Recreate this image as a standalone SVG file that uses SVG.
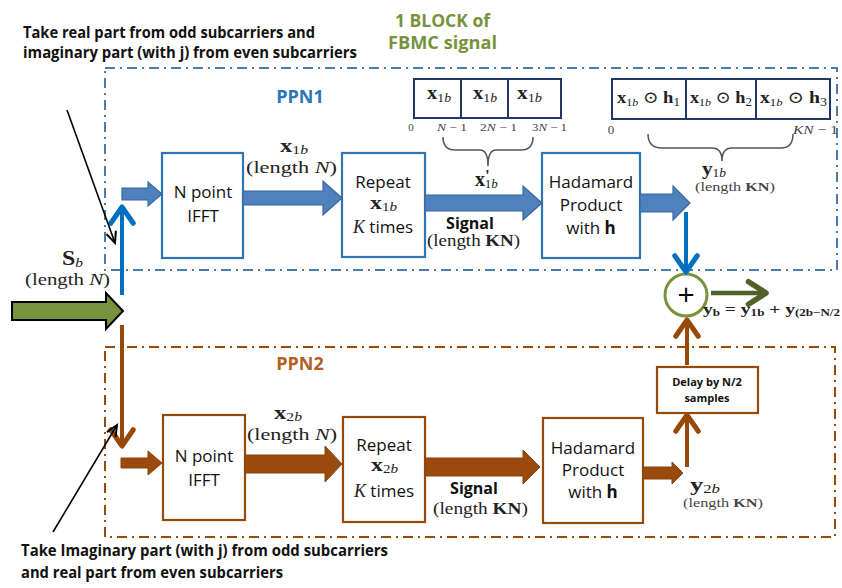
<svg xmlns="http://www.w3.org/2000/svg" width="842" height="588" viewBox="0 0 842 588">
  <defs>
    <style>
      .sans { font-family: "Open Sans", "Liberation Sans", sans-serif; fill: #111; }
      .note { font-family: "Open Sans", "Liberation Sans", sans-serif; font-weight: bold; font-size: 16px; fill: #111; }
      .ser { font-family: "Liberation Serif", "DejaVu Serif", serif; fill: #222; }
      .b { font-weight: bold; }
      .i { font-style: italic; }
      .bluebox { fill: #fff; stroke: #2e75b6; stroke-width: 2.2; }
      .brownbox { fill: #fff; stroke: #984807; stroke-width: 2.2; }
      .arrB { fill: #4f81bd; stroke: #3a679e; stroke-width: 1.2; }
      .arrR { fill: #9a4a0c; stroke: #8a420a; stroke-width: 1; }
      .cells { fill: #fff; stroke: #1f3864; stroke-width: 2; }
      .brace { fill: none; stroke: #555; stroke-width: 1.5; }
    </style>
    <marker id="chevBlue" markerUnits="userSpaceOnUse" markerWidth="30" markerHeight="30" viewBox="-16 -12 20 24" refX="0" refY="0" orient="auto" overflow="visible">
      <path d="M-13,-9 L0,0 L-13,9" fill="none" stroke="#0070c0" stroke-width="4" stroke-linecap="round" stroke-linejoin="round"/>
    </marker>
    <marker id="chevBrown" markerUnits="userSpaceOnUse" markerWidth="30" markerHeight="30" viewBox="-16 -12 20 24" refX="0" refY="0" orient="auto" overflow="visible">
      <path d="M-13,-9 L0,0 L-13,9" fill="none" stroke="#984807" stroke-width="4" stroke-linecap="round" stroke-linejoin="round"/>
    </marker>
    <marker id="chevGreen" markerUnits="userSpaceOnUse" markerWidth="30" markerHeight="30" viewBox="-16 -12 20 24" refX="0" refY="0" orient="auto" overflow="visible">
      <path d="M-14,-9 L0,0 L-14,9" fill="none" stroke="#4f6228" stroke-width="4.5" stroke-linecap="round" stroke-linejoin="round"/>
    </marker>
    <marker id="tipBlack" markerUnits="userSpaceOnUse" markerWidth="20" markerHeight="20" viewBox="-12 -8 14 16" refX="0" refY="0" orient="auto" overflow="visible">
      <path d="M-9,-4 L0,0 L-9,4" fill="none" stroke="#000" stroke-width="1.6"/>
    </marker>
  </defs>

  <rect width="842" height="588" fill="#fff"/>

  <!-- annotations outside the blocks -->
  <g id="note-top">
    <text class="note" x="23" y="38" textLength="292" lengthAdjust="spacingAndGlyphs">Take real part from odd subcarriers and</text>
    <text class="note" x="23" y="58" textLength="334" lengthAdjust="spacingAndGlyphs">imaginary part (with j) from even subcarriers</text>
  </g>
  <g id="title">
    <text class="sans b" x="395" y="27" font-size="18" textLength="95" lengthAdjust="spacingAndGlyphs" style="fill:#77933c">1 BLOCK of</text>
    <text class="sans b" x="388" y="49" font-size="18" textLength="109" lengthAdjust="spacingAndGlyphs" style="fill:#77933c">FBMC signal</text>
  </g>
  <g id="note-bottom">
    <text class="note" x="21" y="556" textLength="367" lengthAdjust="spacingAndGlyphs">Take Imaginary part (with j) from odd  subcarriers</text>
    <text class="note" x="21" y="578" textLength="262" lengthAdjust="spacingAndGlyphs">and real part  from even subcarriers</text>
  </g>

  <!-- polyphase network frames -->
  <g id="ppn1">
    <rect x="105" y="68" width="732" height="202" fill="none" stroke="#4a7bab" stroke-width="2" stroke-dasharray="10 5 2 5"/>
    <text class="sans b" x="300" y="103" text-anchor="middle" font-size="18" style="fill:#2e75b6">PPN1</text>
  </g>
  <g id="ppn2">
    <rect x="105" y="347" width="730" height="190" fill="none" stroke="#984807" stroke-width="2" stroke-dasharray="10 5 2 5"/>
    <text class="sans b" x="300" y="370" text-anchor="middle" font-size="18" style="fill:#b5601e">PPN2</text>
  </g>

  <!-- PPN1 nodes -->
  <g id="ifft1">
    <rect class="bluebox" x="162" y="153" width="81" height="105"/>
    <text class="sans" x="203" y="198" text-anchor="middle" font-size="17">N point</text>
    <text class="sans" x="203" y="222" text-anchor="middle" font-size="17">IFFT</text>
  </g>
  <g id="repeat1">
    <rect class="bluebox" x="342" y="153" width="83" height="104"/>
    <text class="sans" x="383" y="188" text-anchor="middle" font-size="17">Repeat</text>
    <text class="ser" x="370" y="209" font-size="19" textLength="27" lengthAdjust="spacingAndGlyphs"><tspan class="b">x</tspan><tspan font-size="12" dy="2">1<tspan class="i">b</tspan></tspan></text>
    <text class="sans" x="383" y="233" text-anchor="middle" font-size="17"><tspan class="ser i" font-size="18">K</tspan> times</text>
  </g>
  <g id="hadamard1">
    <rect class="bluebox" x="542" y="153" width="98" height="105"/>
    <text class="sans" x="591" y="188" text-anchor="middle" font-size="17">Hadamard</text>
    <text class="sans" x="591" y="211" text-anchor="middle" font-size="17">Product</text>
    <text class="sans" x="591" y="234" text-anchor="middle" font-size="17">with <tspan class="b">h</tspan></text>
  </g>

  <!-- x1b repeated frame -->
  <g id="frame-x1b">
    <rect class="cells" x="414" y="79" width="147" height="39"/>
    <line x1="461" y1="79" x2="461" y2="118" stroke="#1f3864" stroke-width="2"/>
    <line x1="508" y1="79" x2="508" y2="118" stroke="#1f3864" stroke-width="2"/>
    <g class="ser" font-size="18">
      <text x="427" y="99" textLength="24" lengthAdjust="spacingAndGlyphs"><tspan class="b">x</tspan><tspan font-size="12" dy="3">1<tspan class="i">b</tspan></tspan></text>
      <text x="473" y="99" textLength="24" lengthAdjust="spacingAndGlyphs"><tspan class="b">x</tspan><tspan font-size="12" dy="3">1<tspan class="i">b</tspan></tspan></text>
      <text x="517" y="99" textLength="25" lengthAdjust="spacingAndGlyphs"><tspan class="b">x</tspan><tspan font-size="12" dy="3">1<tspan class="i">b</tspan></tspan></text>
    </g>
    <g class="ser" font-size="11" style="fill:#444">
      <text x="411" y="131" text-anchor="middle">0</text>
      <text x="437" y="131" textLength="30" lengthAdjust="spacingAndGlyphs"><tspan class="i">N</tspan> − 1</text>
      <text x="480" y="131" textLength="37" lengthAdjust="spacingAndGlyphs">2<tspan class="i">N</tspan> − 1</text>
      <text x="532" y="131" textLength="35" lengthAdjust="spacingAndGlyphs">3<tspan class="i">N</tspan> − 1</text>
    </g>
    <path class="brace" d="M443,137 Q443,150 455,150 L480,150 Q488,150 488,166 Q488,150 496,150 L521,150 Q533,150 533,137"/>
    <text class="ser" x="475" y="186" font-size="20"><tspan class="b">x</tspan><tspan class="b" font-size="17" dx="0" dy="-5">'</tspan><tspan font-size="13" dx="-5" dy="7">1<tspan class="i">b</tspan></tspan></text>
  </g>

  <!-- y1b frame -->
  <g id="frame-y1b">
    <rect class="cells" x="612" y="79" width="218" height="40"/>
    <line x1="686" y1="79" x2="686" y2="119" stroke="#1f3864" stroke-width="2"/>
    <line x1="756" y1="79" x2="756" y2="119" stroke="#1f3864" stroke-width="2"/>
    <g class="ser" font-size="17">
      <text x="617" y="103" textLength="63" lengthAdjust="spacingAndGlyphs"><tspan class="b">x</tspan><tspan font-size="11" dy="3">1<tspan class="i">b</tspan></tspan><tspan dy="-3"> ⊙ </tspan><tspan class="b">h</tspan><tspan font-size="12" dy="3">1</tspan></text>
      <text x="690" y="103" textLength="62" lengthAdjust="spacingAndGlyphs"><tspan class="b">x</tspan><tspan font-size="11" dy="3">1<tspan class="i">b</tspan></tspan><tspan dy="-3"> ⊙ </tspan><tspan class="b">h</tspan><tspan font-size="12" dy="3">2</tspan></text>
      <text x="760" y="103" textLength="67" lengthAdjust="spacingAndGlyphs"><tspan class="b">x</tspan><tspan font-size="11" dy="3">1<tspan class="i">b</tspan></tspan><tspan dy="-3"> ⊙ </tspan><tspan class="b">h</tspan><tspan font-size="12" dy="3">3</tspan></text>
    </g>
    <text class="ser" x="611" y="134" text-anchor="middle" font-size="13" style="fill:#444">0</text>
    <text class="ser" x="793" y="134" font-size="13" textLength="45" lengthAdjust="spacingAndGlyphs" style="fill:#444"><tspan class="i">KN</tspan> − 1</text>
    <path class="brace" d="M648,134 Q648,148 662,148 L712,148 Q722,148 722,161 Q722,148 732,148 L781,148 Q793,148 793,134"/>
    <text class="ser" x="702" y="175" font-size="19" textLength="24" lengthAdjust="spacingAndGlyphs"><tspan class="b">y</tspan><tspan font-size="12" dy="2">1<tspan class="i">b</tspan></tspan></text>
    <text class="ser" x="695" y="191" font-size="13" textLength="80" lengthAdjust="spacingAndGlyphs" style="fill:#444">(length  <tspan class="b">KN</tspan>)</text>
  </g>

  <!-- PPN2 nodes -->
  <g id="ifft2">
    <rect class="brownbox" x="163" y="415" width="82" height="105"/>
    <text class="sans" x="204" y="462" text-anchor="middle" font-size="17">N point</text>
    <text class="sans" x="204" y="486" text-anchor="middle" font-size="17">IFFT</text>
  </g>
  <g id="repeat2">
    <rect class="brownbox" x="343" y="417" width="82" height="105"/>
    <text class="sans" x="384" y="451" text-anchor="middle" font-size="17">Repeat</text>
    <text class="ser" x="371" y="471" font-size="19" textLength="27" lengthAdjust="spacingAndGlyphs"><tspan class="b">x</tspan><tspan font-size="12" dy="2">2<tspan class="i">b</tspan></tspan></text>
    <text class="sans" x="384" y="497" text-anchor="middle" font-size="17"><tspan class="ser i" font-size="18">K</tspan> times</text>
  </g>
  <g id="hadamard2">
    <rect class="brownbox" x="543" y="418" width="100" height="105"/>
    <text class="sans" x="593" y="454" text-anchor="middle" font-size="17">Hadamard</text>
    <text class="sans" x="593" y="476" text-anchor="middle" font-size="17">Product</text>
    <text class="sans" x="593" y="498" text-anchor="middle" font-size="17">with <tspan class="b">h</tspan></text>
  </g>
  <g id="delay">
    <rect class="brownbox" x="657" y="367" width="101" height="46"/>
    <text class="sans b" x="707" y="386" text-anchor="middle" font-size="11">Delay by N/2</text>
    <text class="sans b" x="707" y="402" text-anchor="middle" font-size="11">samples</text>
  </g>

  <!-- summation node -->
  <g id="sum">
    <circle cx="686" cy="295" r="21" fill="#fff" stroke="#77933c" stroke-width="3"/>
    <text class="sans" x="686" y="305" text-anchor="middle" font-size="30" style="fill:#000">+</text>
  </g>

  <!-- connectors -->
  <g id="connectors">
    <!-- input split -->
    <path d="M12,302 L106,302 L106,293 L123,311 L106,329 L106,320 L12,320 Z" fill="#77933c" stroke="#000" stroke-width="2" stroke-linejoin="miter"/>
    <line x1="122" y1="295" x2="122" y2="207" stroke="#0070c0" stroke-width="4" marker-end="url(#chevBlue)"/>
    <line x1="122" y1="325" x2="122" y2="446" stroke="#984807" stroke-width="4" marker-end="url(#chevBrown)"/>

    <!-- PPN1 flow -->
    <path class="arrB" d="M122,188 L148,188 L148,182 L162,194 L148,206 L148,200 L122,200 Z"/>
    <path class="arrB" d="M243,191 L323,191 L323,181 L342,198 L323,215 L323,205 L243,205 Z"/>
    <path class="arrB" d="M425,195 L523,195 L523,186 L542,203 L523,220 L523,211 L425,211 Z"/>
    <path class="arrB" d="M640,194 L673,194 L673,186 L690,203 L673,220 L673,212 L640,212 Z"/>
    <line x1="686" y1="212" x2="686" y2="272" stroke="#0070c0" stroke-width="4" marker-end="url(#chevBlue)"/>

    <!-- PPN2 flow -->
    <path class="arrR" d="M121,458 L148,458 L148,451 L162,463 L148,475 L148,468 L121,468 Z"/>
    <path class="arrR" d="M245,455 L325,455 L325,446 L342,464 L325,482 L325,473 L245,473 Z"/>
    <path class="arrR" d="M425,458 L523,458 L523,450 L540,467 L523,484 L523,476 L425,476 Z"/>
    <path class="arrR" d="M643,467 L672,467 L672,462 L683,473 L672,484 L672,479 L643,479 Z"/>
    <line x1="687" y1="467" x2="687" y2="415" stroke="#984807" stroke-width="4" marker-end="url(#chevBrown)"/>
    <line x1="687" y1="365" x2="687" y2="320" stroke="#984807" stroke-width="4" marker-end="url(#chevBrown)"/>

    <!-- output -->
    <line x1="711" y1="293" x2="766" y2="293" stroke="#4f6228" stroke-width="4.5" marker-end="url(#chevGreen)"/>

    <!-- pointers from the notes -->
    <line x1="67" y1="110" x2="115" y2="243" stroke="#000" stroke-width="1.6" marker-end="url(#tipBlack)"/>
    <line x1="53" y1="532" x2="117" y2="425" stroke="#000" stroke-width="1.6" marker-end="url(#tipBlack)"/>
  </g>

  <!-- signal labels -->
  <g id="labels">
    <text class="ser" x="62" y="265" font-size="20" textLength="21" lengthAdjust="spacingAndGlyphs"><tspan class="b">S</tspan><tspan class="i" font-size="13" dy="2">b</tspan></text>
    <text class="ser" x="25" y="285" font-size="17" textLength="85" lengthAdjust="spacingAndGlyphs">(length <tspan class="i">N</tspan>)</text>

    <text class="ser" x="280" y="152" font-size="19" textLength="28" lengthAdjust="spacingAndGlyphs"><tspan class="b">x</tspan><tspan font-size="12" dy="2">1<tspan class="i">b</tspan></tspan></text>
    <text class="ser" x="246" y="173" font-size="17" textLength="91" lengthAdjust="spacingAndGlyphs">(length  <tspan class="i">N</tspan>)</text>

    <text class="sans b" x="470" y="229" text-anchor="middle" font-size="16">Signal</text>
    <text class="ser" x="427" y="246" font-size="16" textLength="93" lengthAdjust="spacingAndGlyphs">(length  <tspan class="b">KN</tspan>)</text>

    <text class="ser" x="274" y="419" font-size="19" textLength="28" lengthAdjust="spacingAndGlyphs"><tspan class="b">x</tspan><tspan font-size="12" dy="2">2<tspan class="i">b</tspan></tspan></text>
    <text class="ser" x="247" y="440" font-size="17" textLength="90" lengthAdjust="spacingAndGlyphs">(length  <tspan class="i">N</tspan>)</text>

    <text class="sans b" x="474" y="494" text-anchor="middle" font-size="16">Signal</text>
    <text class="ser" x="433" y="514" font-size="16" textLength="95" lengthAdjust="spacingAndGlyphs">(length  <tspan class="b">KN</tspan>)</text>

    <text class="ser" x="690" y="491" font-size="19" textLength="30" lengthAdjust="spacingAndGlyphs"><tspan class="b">y</tspan><tspan font-size="12" dy="2">2<tspan class="i">b</tspan></tspan></text>
    <text class="ser" x="683" y="507" font-size="13" textLength="80" lengthAdjust="spacingAndGlyphs" style="fill:#444">(length  <tspan class="b">KN</tspan>)</text>

    <text class="ser b" x="703" y="314" font-size="15" textLength="137" lengthAdjust="spacingAndGlyphs">y<tspan font-size="10" dy="2">b</tspan><tspan dy="-2"> = y</tspan><tspan font-size="10" dy="2">1b</tspan><tspan dy="-2"> + y</tspan><tspan font-size="10" dy="2">(2b−N/2</tspan></text>
  </g>
</svg>
